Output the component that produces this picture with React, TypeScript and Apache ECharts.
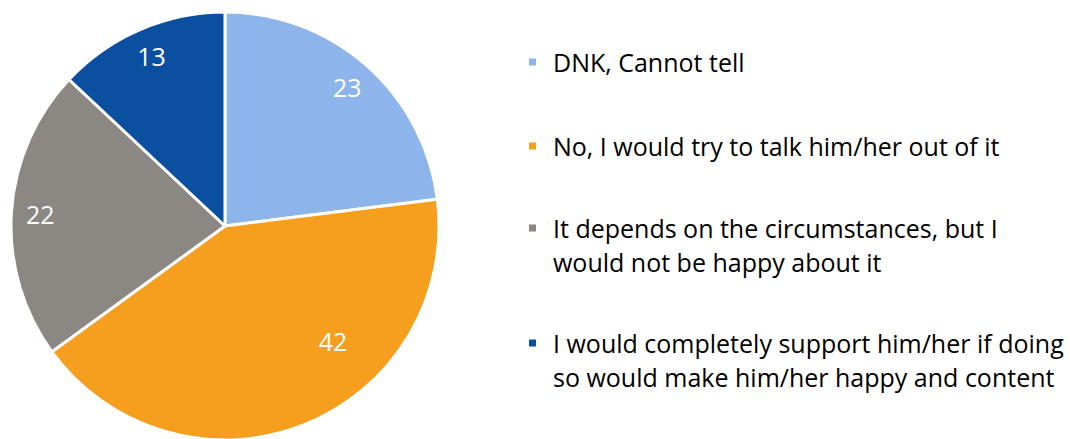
import React, { useEffect, useRef } from "react";
import * as echarts from "echarts";

const categories = [
  "DNK, Cannot tell",
  "No, I would try to talk him/her out of it",
  "It depends on the circumstances, but I would not be happy about it",
  "I would completely support him/her if doing so would make him/her happy and content",
];
const legendLabels = [
  "DNK, Cannot tell",
  "No, I would try to talk him/her out of it",
  "\nIt depends on the circumstances, but I\nwould not be happy about it",
  "\nI would completely support him/her if doing\nso would make him/her happy and content",
];
const values = [23, 42, 22, 13];
const colors = ["#8db4eb", "#f69e1e", "#8b8782", "#0b50a0"];

const FONT = "'Open Sans', Lato, sans-serif";

export default function App() {
  const ref = useRef<HTMLDivElement>(null);
  useEffect(() => {
    if (!ref.current) return;
    const chart = echarts.init(ref.current, undefined, { renderer: "svg" });
    const data = categories.map((name, i) => ({
      name,
      value: values[i],
      itemStyle: { color: colors[i] },
    }));
    const legendTops = [45, 129, 177, 292];
    const legends = categories.map((name, i) => ({
      orient: "vertical",
      left: 527,
      top: legendTops[i],
      padding: 0,
      icon: "rect",
      itemWidth: 9,
      itemHeight: 9,
      selectedMode: false,
      data: [name],
      formatter: () => legendLabels[i],
      textStyle: {
        fontFamily: FONT,
        fontSize: 25,
        color: "#000",
        lineHeight: 34,
        padding: [0, 0, 0, 11],
      },
    }));
    chart.setOption({
      animation: false,
      backgroundColor: "#fff",
      legend: legends,
      series: [
        {
          type: "pie",
          center: [225, 226],
          radius: [0, 214],
          startAngle: 90,
          clockwise: true,
          silent: true,
          label: { show: false },
          labelLine: { show: false },
          itemStyle: { borderColor: "#fff", borderWidth: 3 },
          emphasis: { disabled: true },
          data,
        },
        {
          type: "pie",
          center: [225, 226],
          radius: [150, 214],
          startAngle: 90,
          clockwise: true,
          silent: true,
          avoidLabelOverlap: false,
          itemStyle: { color: "transparent", borderWidth: 0 },
          label: {
            show: true,
            position: "inside",
            formatter: "{c}",
            color: "#fff",
            fontFamily: FONT,
            fontSize: 25,
          },
          labelLine: { show: false },
          labelLayout: (p: any) => (p.dataIndex === 1 ? { dx: 40, dy: -57 } : {}),
          emphasis: { disabled: true },
          data: categories.map((name, i) => ({ name, value: values[i] })),
        },
      ],
    } as any);
    return () => chart.dispose();
  }, []);
  return (
    <div
      ref={ref}
      style={{ position: "fixed", left: 0, top: 0, width: 1070, height: 439 }}
    />
  );
}
